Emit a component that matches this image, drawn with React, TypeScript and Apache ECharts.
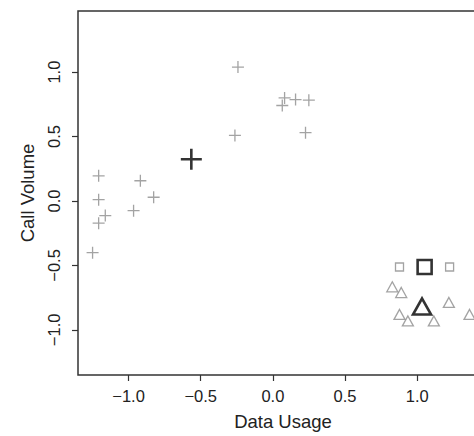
import React, { useEffect, useRef } from "react";
import * as echarts from "echarts";

// Cluster 1 ("+" points)
const plusX = [-1.207, -0.918, -1.207, -0.826, -1.161, -1.207, -0.965, -1.249, -0.242, 0.081, 0.065, 0.157, 0.249, -0.263, 0.226];
const plusY = [0.195, 0.157, 0.01, 0.029, -0.113, -0.172, -0.075, -0.401, 1.039, 0.8, 0.741, 0.787, 0.782, 0.509, 0.53];
// Cluster 2 (squares)
const squareX = [0.877, 1.224];
const squareY = [-0.512, -0.512];
// Cluster 3 (triangles)
const triX = [0.827, 0.889, 1.219, 0.877, 0.935, 1.115, 1.362];
const triY = [-0.666, -0.71, -0.787, -0.88, -0.931, -0.931, -0.88];
// Centroids
const centPlus = [-0.565, 0.324];
const centSquare = [1.051, -0.512];
const centTri = [1.033, -0.818];

const tickValues = [-1, -0.5, 0, 0.5, 1];
const xName = "Data Usage";
const yName = "Call Volume";

const PLUS = "path://M0,-10L0,10M-10,0L10,0";
const GRAY = "#8c8c8c";
const DARK = "#000000";

const zip = (xs: number[], ys: number[]) => xs.map((x, i) => [x, ys[i]]);
const fmt = (v: number) => (v < 0 ? "\u2212" + Math.abs(v).toFixed(1) : v.toFixed(1));

export default function App() {
  const ref = useRef<HTMLDivElement>(null);
  useEffect(() => {
    if (!ref.current) return;
    const chart = echarts.init(ref.current, null, { renderer: "svg" });
    const font = "Liberation Sans, Arial, sans-serif";
    chart.setOption({
      animation: false,
      grid: {
        left: 78,
        top: 11,
        width: 410,
        height: 366,
        show: true,
        borderColor: "#333",
        borderWidth: 1.5,
        backgroundColor: "transparent",
      },
      xAxis: {
        type: "value",
        min: -1.35,
        max: 1.49,
        splitLine: { show: false },
        axisLine: { show: false, onZero: false },
        axisTick: { show: true, length: 6, lineStyle: { color: "#333", width: 1.2 }, customValues: tickValues },
        axisLabel: {
          customValues: tickValues,
          formatter: fmt,
          margin: 12,
          color: "#222",
          fontSize: 16.5,
          fontFamily: font,
        },
        name: xName,
        nameLocation: "middle",
        nameGap: 37,
        nameTextStyle: { color: "#222", fontSize: 18.5, fontFamily: font },
      },
      yAxis: {
        type: "value",
        min: -1.35,
        max: 1.474,
        splitLine: { show: false },
        axisLine: { show: false, onZero: false },
        axisTick: { show: true, length: 6, lineStyle: { color: "#333", width: 1.2 }, customValues: tickValues },
        axisLabel: {
          customValues: tickValues,
          formatter: fmt,
          rotate: 90,
          margin: 16,
          color: "#222",
          fontSize: 16.5,
          fontFamily: font,
        },
        name: yName,
        nameLocation: "middle",
        nameGap: 40,
        nameTextStyle: { color: "#222", fontSize: 18.5, fontFamily: font },
      },
      series: [
        {
          type: "scatter",
          data: zip(plusX, plusY),
          symbol: PLUS,
          symbolSize: 12,
          itemStyle: { color: "transparent", borderColor: GRAY, borderWidth: 1.3 },
        },
        {
          type: "scatter",
          data: zip(squareX, squareY),
          symbol: "rect",
          symbolSize: 8,
          itemStyle: { color: "transparent", borderColor: GRAY, borderWidth: 1.3 },
        },
        {
          type: "scatter",
          data: zip(triX, triY),
          symbol: "triangle",
          symbolSize: [11, 10],
          itemStyle: { color: "transparent", borderColor: GRAY, borderWidth: 1.3 },
        },
        {
          type: "scatter",
          data: [centPlus],
          symbol: PLUS,
          symbolSize: 21,
          itemStyle: { color: "transparent", borderColor: DARK, borderWidth: 2.6 },
        },
        {
          type: "scatter",
          data: [centSquare],
          symbol: "rect",
          symbolSize: 14,
          itemStyle: { color: "transparent", borderColor: DARK, borderWidth: 2.6 },
        },
        {
          type: "scatter",
          data: [centTri],
          symbol: "triangle",
          symbolSize: [18, 16],
          itemStyle: { color: "transparent", borderColor: DARK, borderWidth: 2.6 },
        },
      ],
    });
    return () => chart.dispose();
  }, []);
  return (
    <div style={{ position: "fixed", left: 0, top: 0, width: 474, height: 436, overflow: "hidden", background: "#fff" }}>
      <div ref={ref} style={{ width: 500, height: 436 }} />
    </div>
  );
}
